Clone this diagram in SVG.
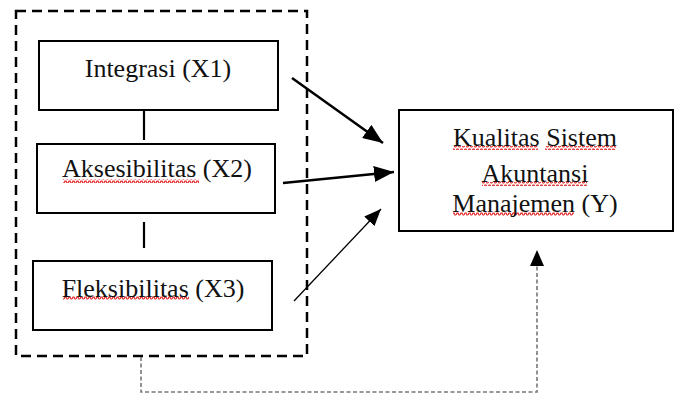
<svg xmlns="http://www.w3.org/2000/svg" width="676" height="397" viewBox="0 0 676 397">
<style>
.box{fill:#fff;stroke:#000;stroke-width:2}
.t{font-family:"Liberation Serif","Times New Roman",serif;font-size:26px;fill:#111;text-anchor:middle}
.sq{fill:url(#wave)}
.c{stroke:#000;fill:none}
</style>
<defs>
<pattern id="wave" width="4" height="4" patternUnits="userSpaceOnUse">
<path d="M0 3 L1 1 L2 1 L3 3 L4 3" stroke="#e02020" stroke-width="1.2" fill="none"/>
</pattern>
<marker id="ah" markerUnits="userSpaceOnUse" markerWidth="22" markerHeight="16" refX="20" refY="8" orient="auto">
<path d="M0 0 L20 8 L0 16 Z" fill="#000"/>
</marker>
<marker id="ahs" markerUnits="userSpaceOnUse" markerWidth="18" markerHeight="14" refX="17" refY="7" orient="auto">
<path d="M0 0 L17 7 L0 14 Z" fill="#000"/>
</marker>
</defs>
<g id="group-x">
<rect x="16" y="11" width="291" height="345" fill="none" stroke="#000" stroke-width="2.5" stroke-dasharray="10 6"/>
</g>
<g id="connectors">
<line class="c" x1="144" y1="110" x2="144" y2="140" stroke-width="2.2"/>
<line class="c" x1="144" y1="222" x2="144" y2="248" stroke-width="2.2"/>
<line class="c" x1="292" y1="78" x2="383" y2="143" stroke-width="2.5" marker-end="url(#ah)"/>
<line class="c" x1="283" y1="183" x2="394" y2="172" stroke-width="2.5" marker-end="url(#ah)"/>
<line class="c" x1="294" y1="301" x2="381" y2="209" stroke-width="1.3" marker-end="url(#ahs)"/>
<polyline points="141,357 141,392 537,392 537,262" fill="none" stroke="#777" stroke-width="1.6" stroke-dasharray="4 2.5"/>
<path d="M537 250 L544 266 L530 266 Z" fill="#000"/>
</g>
<g id="x1">
<rect class="box" x="39" y="41" width="239" height="69"/>
<text class="t" x="158" y="77">Integrasi (X1)</text>
</g>
<g id="x2">
<rect class="box" x="37" y="144" width="238" height="69"/>
<rect class="sq" x="63" y="179" width="136" height="4"/>
<text class="t" x="157" y="177">Aksesibilitas (X2)</text>
</g>
<g id="x3">
<rect class="box" x="33" y="261" width="239" height="69"/>
<rect class="sq" x="63" y="296" width="126" height="4"/>
<text class="t" x="153" y="297">Fleksibilitas (X3)</text>
</g>
<g id="y">
<rect class="box" x="399" y="110" width="274" height="121"/>
<rect class="sq" x="453" y="146" width="85" height="4"/>
<rect class="sq" x="545" y="146" width="71" height="4"/>
<rect class="sq" x="482" y="182" width="105" height="4"/>
<rect class="sq" x="453" y="212" width="121" height="4"/>
<text class="t" x="535" y="146">Kualitas Sistem</text>
<text class="t" x="535" y="182">Akuntansi</text>
<text class="t" x="535" y="212">Manajemen (Y)</text>
</g>
</svg>
